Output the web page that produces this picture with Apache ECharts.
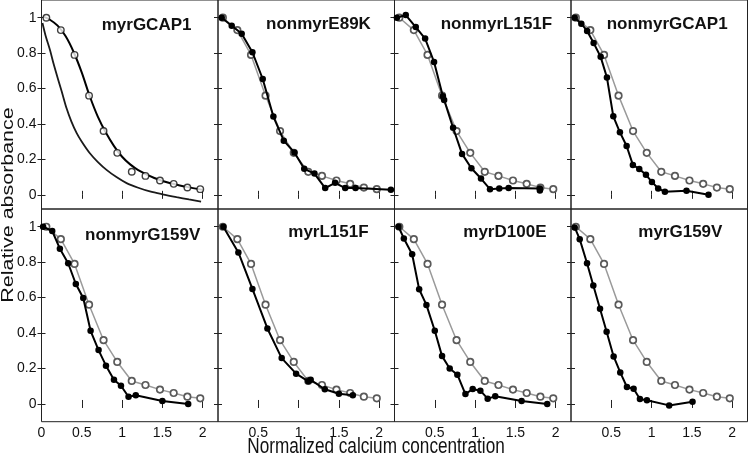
<!DOCTYPE html>
<html><head><meta charset="utf-8">
<script src="https://cdn.jsdelivr.net/npm/echarts@6/dist/echarts.min.js"></script>
<style>html,body{margin:0;padding:0;background:#fff}#c{width:750px;height:457px}</style>
</head><body><div id="c"></div>
<script>
// ---- data ----
const panelNames = ['myrGCAP1','nonmyrE89K','nonmyrL151F','nonmyrGCAP1','nonmyrG159V','myrL151F','myrD100E','myrG159V'];
// reference myrGCAP1 measurements (open circles, grey in panels 2-8)
const refX = [0.06,0.24,0.41,0.59,0.77,0.94,1.12,1.29,1.47,1.64,1.81,1.97];
const refY = [1.0,0.93,0.79,0.56,0.36,0.237,0.13,0.107,0.081,0.062,0.041,0.032];
// fitted curve through myrGCAP1
const fitX = [0.02,0.1,0.2,0.3,0.4,0.5,0.6,0.7,0.8,0.9,1.0,1.1,1.2,1.4,1.6,1.8,2.0];
const fitY = [1.006,0.99,0.955,0.895,0.805,0.69,0.555,0.44,0.35,0.275,0.215,0.172,0.14,0.095,0.065,0.045,0.028];
// second (left) curve, panel 1
const curve2X = [0.012,0.05,0.107,0.15,0.207,0.25,0.31,0.37,0.435,0.5,0.6,0.7,0.807,0.93,1.056,1.2,1.345,1.5,1.676,1.83,1.98];
const curve2Y = [0.97,0.9,0.815,0.74,0.65,0.585,0.49,0.415,0.35,0.3,0.235,0.185,0.141,0.1,0.066,0.04,0.019,0.003,-0.013,-0.026,-0.038];
// mutant series (filled black)
const e89kX = [0.046,0.17,0.294,0.427,0.555,0.687,0.816,0.948,1.07,1.197,1.33,1.453,1.578,1.706,2.145];
const e89kY = [1.0,0.955,0.91,0.805,0.654,0.442,0.306,0.239,0.147,0.12,0.038,0.068,0.038,0.039,0.028];
const nL151FX = [0.03,0.14,0.264,0.38,0.491,0.60,0.616,0.727,0.838,0.954,1.073,1.185,1.3,1.416,1.804,1.804];
const nL151FY = [1.0,1.015,0.947,0.882,0.75,0.556,0.536,0.379,0.231,0.15,0.092,0.032,0.036,0.039,0.036,0.024];
const nGCAP1X = [0.046,0.128,0.2,0.281,0.368,0.446,0.525,0.607,0.69,0.768,0.847,0.93,1.004,1.082,1.165,1.433,1.706];
const nGCAP1Y = [1.0,0.966,0.925,0.857,0.779,0.662,0.443,0.353,0.276,0.169,0.146,0.113,0.073,0.036,0.017,0.023,0.0];
const nG159VX = [0.02,0.133,0.228,0.331,0.426,0.518,0.609,0.708,0.8,0.899,0.986,1.08,1.17,1.5,1.82];
const nG159VY = [1.0,0.976,0.876,0.794,0.677,0.598,0.413,0.304,0.216,0.137,0.103,0.041,0.049,0.017,0.0];
const mL151FX = [0.066,0.253,0.427,0.613,0.79,0.969,1.12,1.15,1.325,1.5,1.673];
const mL151FY = [1.0,0.855,0.649,0.426,0.259,0.171,0.128,0.136,0.083,0.058,0.049];
const mD100EX = [0.05,0.116,0.219,0.306,0.396,0.5,0.59,0.685,0.78,0.88,0.97,1.065,1.156,1.25,1.577,1.895];
const mD100EY = [1.0,0.934,0.845,0.647,0.559,0.413,0.27,0.2,0.165,0.056,0.084,0.075,0.03,0.043,0.017,0.0];
const mG159VX = [0.046,0.108,0.199,0.277,0.36,0.442,0.529,0.611,0.694,0.777,0.855,0.942,1.218,1.508];
const mG159VY = [0.996,0.93,0.794,0.668,0.537,0.407,0.268,0.178,0.096,0.086,0.028,0.021,-0.008,0.013];
// tick labels
const xTicks = [0.5,1,1.5,2];
const xLabelsFirst = [0,0.5,1,1.5,2];
const yTicks = [0,0.2,0.4,0.6,0.8,1];
const xTitle = 'Normalized calcium concentration';
const yTitle = 'Relative absorbance';

// ---- layout ----
const zip = (a,b) => a.map((v,i)=>[v,b[i]]);
const mutants = [null,[e89kX,e89kY],[nL151FX,nL151FY],[nGCAP1X,nGCAP1Y],[nG159VX,nG159VY],[mL151FX,mL151FY],[mD100EX,mD100EY],[mG159VX,mG159VY]];
const colLeft = [41.5,218,394.5,571];
const colW = 176.5;
const rows = [{top:-1,height:210,min:-0.08},{top:209,height:212.7,min:-0.1}];
const titlePos = [[101.7,25],[266,24.6],[440.7,24.6],[606.7,24.6],[85,235.5],[288.3,232.3],[463.3,232.3],[638.3,232.3]];
const tickFont = {fontFamily:"'Liberation Sans Narrow','Liberation Sans',Arial,sans-serif",fontSize:14,color:'#111'};
const axCol = '#222';

const grid=[],xAxis=[],yAxis=[],series=[],graphic=[];
for(let p=0;p<8;p++){
  const r=Math.floor(p/4), c=p%4;
  grid.push({left:colLeft[c],top:rows[r].top,width:colW,height:rows[r].height,show:true,borderColor:axCol,borderWidth:1,backgroundColor:'transparent',containLabel:false});
  const tick={show:true,inside:true,length:4,lineStyle:{color:axCol,width:1}};
  const xb={type:'value',gridIndex:p,min:0,max:2.19,position:'bottom',axisLine:{show:false},splitLine:{show:false},
    axisTick:Object.assign({customValues:xTicks},tick),
    axisLabel:Object.assign({show:r===1,customValues:c===0?xLabelsFirst:xTicks,margin:4},tickFont)};
  const xt={type:'value',gridIndex:p,min:0,max:2.19,position:'top',axisLine:{show:false},splitLine:{show:false},
    axisTick:Object.assign({customValues:xTicks},tick),axisLabel:{show:false}};
  const yl={type:'value',gridIndex:p,min:rows[r].min,max:1.1,position:'left',axisLine:{show:false},splitLine:{show:false},
    axisTick:Object.assign({customValues:yTicks},tick),
    axisLabel:Object.assign({show:c===0,customValues:yTicks,margin:5},tickFont)};
  const yr={type:'value',gridIndex:p,min:rows[r].min,max:1.1,position:'right',axisLine:{show:false},splitLine:{show:false},
    axisTick:Object.assign({customValues:yTicks},tick),axisLabel:{show:false}};
  xAxis.push(xb,xt); yAxis.push(yl,yr);
  const xi=2*p, yi=2*p;
  if(p===0){
    series.push({type:'line',xAxisIndex:xi,yAxisIndex:yi,data:zip(curve2X,curve2Y),smooth:0.3,showSymbol:false,symbol:'none',lineStyle:{color:'#1a1a1a',width:1.8}});
    series.push({type:'line',xAxisIndex:xi,yAxisIndex:yi,data:zip(fitX,fitY),smooth:0.3,showSymbol:false,symbol:'none',lineStyle:{color:'#000',width:2}});
    series.push({type:'scatter',xAxisIndex:xi,yAxisIndex:yi,data:zip(refX,refY),symbol:'circle',symbolSize:6.5,itemStyle:{color:'#fff',borderColor:'#111',borderWidth:1.4},z:5});
  } else {
    series.push({type:'line',xAxisIndex:xi,yAxisIndex:yi,data:zip(refX,refY),symbol:'circle',symbolSize:6.5,showAllSymbol:true,
      lineStyle:{color:'#9a9a9a',width:1.5},itemStyle:{color:'#fff',borderColor:'#5a5a5a',borderWidth:1.7},z:2});
    const m=mutants[p];
    series.push({type:'line',xAxisIndex:xi,yAxisIndex:yi,data:zip(m[0],m[1]),symbol:'circle',symbolSize:6.5,showAllSymbol:true,
      lineStyle:{color:'#000',width:2},itemStyle:{color:'#000'},z:3});
  }
  graphic.push({type:'text',x:titlePos[p][0],y:titlePos[p][1],style:{text:panelNames[p],font:'bold 17px "Liberation Sans", Arial, sans-serif',fill:'#111',align:'left',verticalAlign:'middle'}});
}
graphic.push({type:'text',x:376,y:446.5,scaleX:0.78,style:{text:xTitle,font:'22px "Liberation Sans", Arial, sans-serif',fill:'#111',align:'center',verticalAlign:'middle'}});
graphic.push({type:'text',x:8.5,y:205,rotation:Math.PI/2,scaleX:1.26,style:{text:yTitle,font:'17px "Liberation Sans", Arial, sans-serif',fill:'#111',align:'center',verticalAlign:'middle'}});

const chart=echarts.init(document.getElementById('c'),null,{renderer:'canvas'});
chart.setOption({animation:false,backgroundColor:'#fff',grid,xAxis,yAxis,series,graphic});
</script></body></html>
